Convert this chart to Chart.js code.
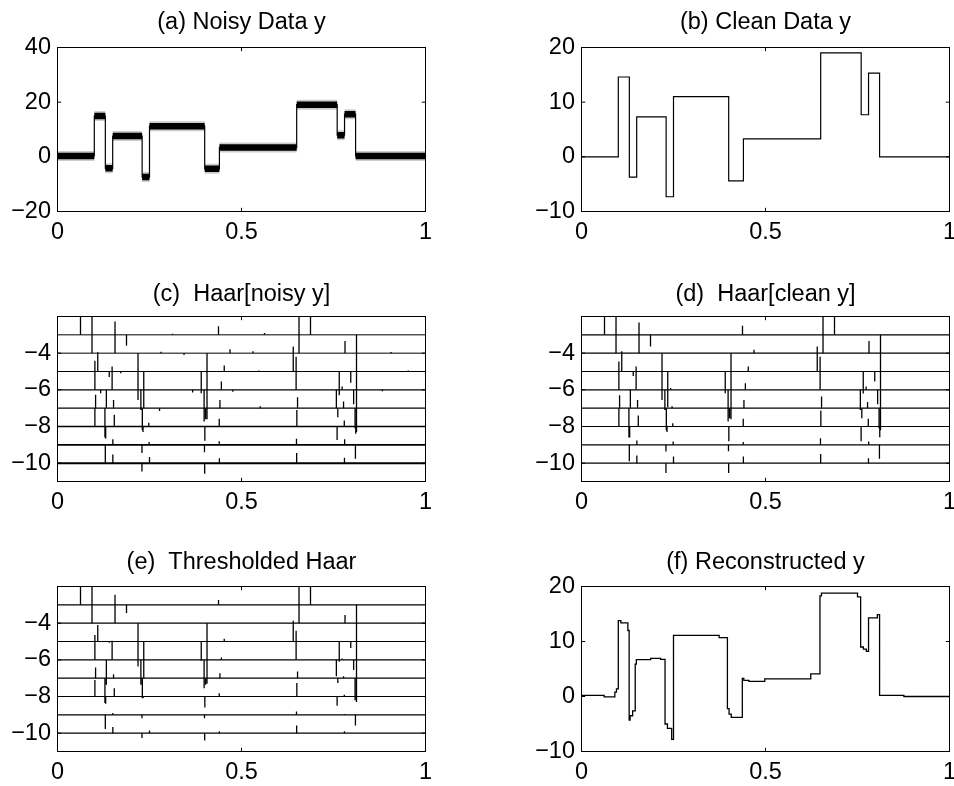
<!DOCTYPE html>
<html>
<head>
<meta charset="utf-8">
<script src="https://cdn.jsdelivr.net/npm/chart.js@4"></script>
<style>
  body { margin: 0; background: #fff; }
  #fig { position: relative; width: 954px; height: 786px; }
  #fig canvas { position: absolute; }
</style>
</head>
<body>
<div id="fig"></div>
<script>
// Blocks signal, its Haar transform, thresholding and reconstruction

const X_TICKS = [0, 0.5, 1];
const Y_TICKS_A = [-20, 0, 20, 40];
const Y_TICKS_B = [-10, 0, 10, 20];
const Y_TICKS_HAAR = [-10, -8, -6, -4];
const LEVELS = [3, 4, 5, 6, 7, 8, 9, 10];

// piecewise constant blocks: start of each block and its level
const BREAKS = [0, 0.10, 0.13, 0.15, 0.23, 0.25, 0.40, 0.44, 0.65, 0.76, 0.78, 0.81, 1];
const CLEAN = [0, 14.6, -3.7, 7.3, -7.3, 11.0, -4.4, 3.3, 19.0, 7.7, 15.3, 0];
const NOISY = [0.3, 14.9, -4.2, 7.6, -7.4, 11.2, -4.4, 3.4, 19.1, 7.9, 15.6, 0.3];

// reconstructed signal, read as steps
const RECON_X = [0, 0.0616, 0.0906, 0.095, 0.100, 0.107, 0.126, 0.1295, 0.132, 0.139, 0.146, 0.149,
  0.188, 0.215, 0.227, 0.2335, 0.245, 0.250, 0.374, 0.3965, 0.401, 0.407, 0.437, 0.441, 0.455,
  0.498, 0.623, 0.648, 0.652, 0.750, 0.7585, 0.766, 0.774, 0.780, 0.804, 0.810, 0.876, 1];
const RECON_Y = [0.2, -0.05, 0.8, 1.4, 13.8, 13.4, 12.0, -4.3, -3.5, -2.6, 5.9, 6.7,
  6.95, 6.75, -5.0, -5.8, -7.8, 11.1, 10.7, -2.2, -3.2, -3.8, 3.3, 2.95, 2.75,
  3.2, 4.1, 18.3, 18.8, 18.1, 9.0, 8.6, 8.2, 14.3, 14.9, 0.2, 0.0, 0.0];

// Haar coefficients: [level, position, scaled value]
const HAAR_NOISY = [
  [3, 0.0625, 1.5], [3, 0.1875, -0.6], [3, 0.3125, 0.06], [3, 0.4375, 0.47], [3, 0.5625, 0.1], [3, 0.6875, 1.5], [3, 0.8125, -5.3],
  [4, 0.0938, 2.5], [4, 0.1563, 1.73], [4, 0.2188, -2.55], [4, 0.2813, 0.08], [4, 0.3438, -0.1], [4, 0.4063, -3.6], [4, 0.4688, 0.22],
  [4, 0.5313, 0.1], [4, 0.6563, 2.5], [4, 0.7813, 0.67], [4, 0.9063, 0.06],
  [5, 0.1094, 1.05], [5, 0.1406, -0.3], [5, 0.1719, -0.1], [5, 0.2344, -2.0], [5, 0.3906, -1.18], [5, 0.4531, 0.33], [5, 0.5469, 0.05],
  [5, 0.6406, 1.36], [5, 0.7656, -1.3], [5, 0.7969, -0.62], [5, 0.9531, 0.05],
  [6, 0.1016, 1.58], [6, 0.1172, -0.18], [6, 0.1328, -1.0], [6, 0.1484, 1.27], [6, 0.2266, -1.1], [6, 0.3672, -0.15], [6, 0.3984, -1.73],
  [6, 0.4453, 0.45], [6, 0.4766, -0.1], [6, 0.6484, 1.8], [6, 0.7578, -1.0], [6, 0.7734, 0.18], [6, 0.8047, -0.78], [6, 0.8828, -0.08],
  [7, 0.1035, 0.73], [7, 0.1289, -1.6], [7, 0.1523, 0.45], [7, 0.2305, -1.2], [7, 0.2773, -0.15], [7, 0.4023, -0.6], [7, 0.4414, 0.45],
  [7, 0.5508, 0.1], [7, 0.6523, 0.6], [7, 0.7617, -0.5], [7, 0.7773, 0.36], [7, 0.8086, -1.1],
  [8, 0.1016, 1.0], [8, 0.1309, -0.65], [8, 0.1543, 0.64], [8, 0.2324, -0.3], [8, 0.248, 0.2], [8, 0.4004, -0.78], [8, 0.4395, 0.42],
  [8, 0.6504, 0.9], [8, 0.7598, -0.73], [8, 0.7793, 0.33], [8, 0.8105, -0.4],
  [9, 0.1299, -0.98], [9, 0.1504, 0.3], [9, 0.2295, -0.44], [9, 0.249, 0.15], [9, 0.3994, -0.4], [9, 0.4395, 0.2], [9, 0.6494, 0.33],
  [9, 0.7803, 0.3], [9, 0.8096, -0.76],
  [10, 0.1504, 0.47], [10, 0.2295, -0.45], [10, 0.25, 0.33], [10, 0.3999, -0.58], [10, 0.4399, 0.27], [10, 0.6499, 0.56], [10, 0.7798, 0.3]
];

const HAAR_CLEAN = [
  [3, 0.0625, 1.5], [3, 0.1875, -0.64], [3, 0.4375, 0.49], [3, 0.6875, 1.5], [3, 0.8125, -5.2],
  [4, 0.0938, 2.5], [4, 0.1563, 1.67], [4, 0.2188, -2.55], [4, 0.4063, -3.6], [4, 0.4688, 0.18], [4, 0.6563, 2.5], [4, 0.7813, 0.67],
  [5, 0.1094, 1.1], [5, 0.1406, -0.24], [5, 0.2344, -1.95], [5, 0.3906, -1.18], [5, 0.4531, 0.27], [5, 0.6406, 1.36], [5, 0.7656, -1.2],
  [5, 0.7969, -0.55],
  [6, 0.1016, 1.55], [6, 0.1328, -1.0], [6, 0.1484, 1.27], [6, 0.2266, -1.1], [6, 0.2422, 0.1], [6, 0.3984, -1.73], [6, 0.4453, 0.36],
  [6, 0.6484, 1.8], [6, 0.7578, -1.1], [6, 0.7734, 0.18], [6, 0.8047, -0.78],
  [7, 0.1035, 0.7], [7, 0.1289, -1.6], [7, 0.1523, 0.45], [7, 0.2305, -1.2], [7, 0.2461, 0.1], [7, 0.4023, -0.55], [7, 0.4414, 0.45],
  [7, 0.6523, 0.64], [7, 0.7617, -0.55], [7, 0.7773, 0.33], [7, 0.8086, -1.1],
  [8, 0.1016, 1.0], [8, 0.1309, -0.6], [8, 0.1543, 0.6], [8, 0.2324, -0.3], [8, 0.248, 0.18], [8, 0.4004, -0.8], [8, 0.4395, 0.42],
  [8, 0.6504, 0.87], [8, 0.7598, -0.8], [8, 0.7793, 0.42], [8, 0.8105, -0.58],
  [9, 0.1299, -0.9], [9, 0.1504, 0.24], [9, 0.2295, -0.36], [9, 0.249, 0.18], [9, 0.3994, -0.35], [9, 0.4395, 0.15], [9, 0.6494, 0.36],
  [9, 0.7803, 0.18], [9, 0.8096, -0.76],
  [10, 0.1504, 0.42], [10, 0.2295, -0.53], [10, 0.25, 0.36], [10, 0.3999, -0.53], [10, 0.4399, 0.36], [10, 0.6499, 0.5], [10, 0.7798, 0.27]
];

const HAAR_THRESH = [
  [3, 0.0625, 1.5], [3, 0.1875, -0.45], [3, 0.4375, 0.27], [3, 0.6875, 1.5], [3, 0.8125, -5.3],
  [4, 0.0938, 2.5], [4, 0.1563, 1.55], [4, 0.2188, -2.36], [4, 0.4063, -3.3], [4, 0.6563, 2.5], [4, 0.7813, 0.45],
  [5, 0.1094, 0.9], [5, 0.1406, -0.07], [5, 0.2344, -2.0], [5, 0.3906, -1.05], [5, 0.4531, 0.15], [5, 0.6406, 1.13], [5, 0.7656, -1.1],
  [5, 0.7969, -0.36],
  [6, 0.1016, 1.36], [6, 0.1328, -1.36], [6, 0.1484, 1.04], [6, 0.2266, -1.36], [6, 0.3984, -1.55], [6, 0.4453, 0.13], [6, 0.6484, 1.58],
  [6, 0.7578, -0.9], [6, 0.7734, 0.07], [6, 0.8047, -0.55],
  [7, 0.1035, 0.58], [7, 0.1289, -1.36], [7, 0.1523, 0.22], [7, 0.2305, -1.1], [7, 0.4023, -0.36], [7, 0.4414, 0.27], [7, 0.6523, 0.36],
  [7, 0.7617, -0.27], [7, 0.7773, 0.1], [7, 0.8086, -1.2],
  [8, 0.1016, 0.9], [8, 0.1309, -0.4], [8, 0.1543, 0.45], [8, 0.2324, -0.1], [8, 0.4004, -0.6], [8, 0.4395, 0.18], [8, 0.6504, 0.73],
  [8, 0.7598, -0.5], [8, 0.7793, 0.1],
  [9, 0.1299, -0.77], [9, 0.1504, 0.1], [9, 0.2295, -0.18], [9, 0.3994, -0.18], [9, 0.6494, 0.18], [9, 0.7803, 0.05], [9, 0.8096, -0.58],
  [10, 0.1504, 0.33], [10, 0.2295, -0.27], [10, 0.25, 0.15], [10, 0.3999, -0.4], [10, 0.4399, 0.1], [10, 0.6499, 0.42], [10, 0.7798, 0.1]
];

// baseline thickness per level in the noisy transform (fine levels are noise)
const NOISY_BASE_W = [1, 1, 1, 1.1, 1.2, 1.5, 1.7, 2.0];

const FONT = { family: "'Liberation Sans', Arial, Helvetica, sans-serif", size: 23.5 };
const BLACK = "#000";

function stepPoints(xs, ys) {
  const pts = xs.slice(0, ys.length).map((x, i) => ({ x, y: ys[i] }));
  pts.push({ x: xs[xs.length - 1], y: ys[ys.length - 1] });
  return pts;
}

function blockSegments(xs, ys) {
  const pts = [];
  ys.forEach((v, i) => {
    pts.push({ x: xs[i], y: v }, { x: xs[i + 1], y: v }, { x: xs[i + 1], y: null });
  });
  return pts;
}

function line(data, width, extra) {
  return Object.assign({
    data,
    borderColor: BLACK,
    borderWidth: width,
    pointRadius: 0,
    tension: 0,
    spanGaps: false,
    clip: 0
  }, extra || {});
}

function haarDatasets(coefs, baseWidths) {
  const sets = LEVELS.map((j, i) =>
    line([{ x: 0, y: -j }, { x: 1, y: -j }], baseWidths ? baseWidths[i] : 1.1, { borderCapStyle: "butt" })
  );
  const sticks = [];
  coefs.forEach(([j, x, h]) => {
    sticks.push({ x, y: -j }, { x, y: -j + h }, { x, y: null });
  });
  sets.push(line(sticks, 1.3, { borderCapStyle: "butt" }));
  return sets;
}

const frame = {
  id: "frame",
  afterDatasetsDraw(chart) {
    const { ctx, chartArea: a, scales } = chart;
    const t = 3.7;
    ctx.save();
    ctx.strokeStyle = BLACK;
    ctx.lineWidth = 1;
    ctx.strokeRect(a.left, a.top, a.right - a.left, a.bottom - a.top);
    ctx.beginPath();
    scales.x.ticks.forEach(tk => {
      const px = scales.x.getPixelForValue(tk.value);
      ctx.moveTo(px, a.bottom); ctx.lineTo(px, a.bottom - t);
      ctx.moveTo(px, a.top); ctx.lineTo(px, a.top + t);
    });
    scales.y.ticks.forEach(tk => {
      const py = scales.y.getPixelForValue(tk.value);
      ctx.moveTo(a.left, py); ctx.lineTo(a.left + t, py);
      ctx.moveTo(a.right, py); ctx.lineTo(a.right - t, py);
    });
    ctx.stroke();
    ctx.restore();
  }
};

// canvas rows: top of plot box, bottom of plot box, title padding
const ROW_TOP = [47.5, 54.5, 62.5];
const ROW_BOTTOM = [211.5, 219.5, 227.5];
const ROW_TITLE_PAD = [[11.25, 12.75], [20.7, 10.3], [26.3, 12.7]];

function panel(col, row, title, datasets, yMin, yMax, yTicks) {
  const cv = document.createElement("canvas");
  cv.width = 477; cv.height = 262;
  cv.style.left = (col * 477) + "px";
  cv.style.top = (row * 262) + "px";
  document.getElementById("fig").appendChild(cv);

  const yW = col ? 104.5 : 57.5;
  const padR = col ? 4.5 : 51.5;
  const xH = 30;

  return new Chart(cv, {
    type: "line",
    data: { datasets },
    options: {
      responsive: false,
      animation: false,
      events: [],
      layout: { padding: { left: 0, top: 0, right: padR, bottom: 262 - ROW_BOTTOM[row] - xH } },
      plugins: {
        legend: { display: false },
        tooltip: { enabled: false },
        title: {
          display: true,
          text: title,
          fullSize: false,
          color: BLACK,
          font: Object.assign({ weight: "normal", lineHeight: 1 }, FONT),
          padding: { top: ROW_TITLE_PAD[row][0], bottom: ROW_TITLE_PAD[row][1] }
        }
      },
      scales: {
        x: {
          type: "linear",
          min: 0, max: 1,
          grid: { display: false, drawTicks: false },
          border: { display: false },
          afterBuildTicks: s => { s.ticks = X_TICKS.map(v => ({ value: v })); },
          afterFit: s => { s.height = xH; s.paddingLeft = 0; s.paddingRight = 0; },
          ticks: {
            autoSkip: false, maxRotation: 0, padding: 7, color: BLACK,
            font: Object.assign({ lineHeight: 1.2 }, FONT),
            callback: v => String(v)
          }
        },
        y: {
          type: "linear",
          min: yMin, max: yMax,
          grid: { display: false, drawTicks: false },
          border: { display: false },
          afterBuildTicks: s => { s.ticks = yTicks.map(v => ({ value: v })); },
          afterFit: s => { s.width = yW; s.paddingTop = 0; s.paddingBottom = 0; },
          ticks: {
            autoSkip: false, padding: 6.5, color: BLACK,
            font: Object.assign({ lineHeight: 1.2 }, FONT),
            callback: v => String(v).replace("-", "\u2212")
          }
        }
      }
    },
    plugins: [frame]
  });
}

// (a) noisy data: band for the noise, thin steps for the jumps
panel(0, 0, "(a) Noisy Data y", [
  line(blockSegments(BREAKS, NOISY), 10, { borderColor: "rgba(0,0,0,0.2)", borderCapStyle: "butt" }),
  line(blockSegments(BREAKS, NOISY), 6.5, { borderCapStyle: "butt" }),
  line(stepPoints(BREAKS, NOISY), 1.2, { stepped: true })
], -20, 40, Y_TICKS_A);

panel(1, 0, "(b) Clean Data y", [
  line(stepPoints(BREAKS, CLEAN), 1.2, { stepped: true })
], -10, 20, Y_TICKS_B);

panel(0, 1, "(c)  Haar[noisy y]", haarDatasets(HAAR_NOISY, NOISY_BASE_W), -11, -2, Y_TICKS_HAAR);
panel(1, 1, "(d)  Haar[clean y]", haarDatasets(HAAR_CLEAN), -11, -2, Y_TICKS_HAAR);
panel(0, 2, "(e)  Thresholded Haar", haarDatasets(HAAR_THRESH), -11, -2, Y_TICKS_HAAR);

panel(1, 2, "(f) Reconstructed y", [
  line(stepPoints(RECON_X, RECON_Y), 1.3, { stepped: true })
], -10, 20, Y_TICKS_B);
</script>
</body>
</html>
